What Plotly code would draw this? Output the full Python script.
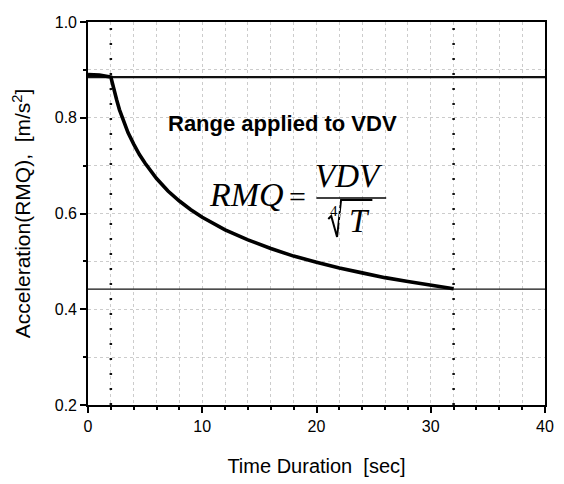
import plotly.graph_objects as go

# RMQ decay curve: acceleration (m/s^2) versus time duration (s)
time_s = [0, 1, 2, 2.25, 2.5, 2.75, 3, 3.5, 4, 4.5, 5, 6, 7, 8, 9, 10, 12, 14, 16, 18, 20,
          22, 24, 26, 28, 30, 32]
rmq = [0.890, 0.889, 0.885, 0.859, 0.838, 0.817, 0.800, 0.769, 0.745, 0.723, 0.705, 0.673,
       0.647, 0.626, 0.608, 0.592, 0.566, 0.545, 0.527, 0.511, 0.498, 0.486, 0.476, 0.466,
       0.458, 0.450, 0.443]

# reference levels (VDV level and half level) and the range limits applied to VDV
levels = [0.885, 0.442]
level_widths = [2.2, 1.2]
range_limits = [2, 32]

x_range = [0, 40]
y_range = [0.2, 1.0]
x_ticks = [0, 10, 20, 30, 40]
y_ticks = [0.2, 0.4, 0.6, 0.8, 1.0]

fig = go.Figure()

for lv, w in zip(levels, level_widths):
    fig.add_trace(go.Scatter(x=x_range, y=[lv, lv], mode="lines",
                             line=dict(color="#111111", width=w),
                             hoverinfo="skip", showlegend=False))

for t in range_limits:
    fig.add_trace(go.Scatter(x=[t, t], y=y_range, mode="lines",
                             line=dict(color="#111111", width=2.5, dash="2px,13px"),
                             hoverinfo="skip", showlegend=False))

fig.add_trace(go.Scatter(x=time_s, y=rmq, mode="lines",
                         line=dict(color="black", width=3.6),
                         showlegend=False))

sans = "Liberation Sans, Arial, sans-serif"
serif = "Liberation Serif, Times New Roman, DejaVu Serif, serif"

fig.add_annotation(x=17.0, y=0.789, text="<b>Range applied to VDV</b>", showarrow=False,
                   font=dict(family=sans, size=22, color="black"))
fig.add_annotation(x=13.9, y=0.639, text="<i>RMQ</i>", showarrow=False,
                   font=dict(family=serif, size=34, color="black"))
fig.add_annotation(x=18.35, y=0.636, text="=", showarrow=False,
                   font=dict(family=serif, size=30, color="black"))
fig.add_annotation(x=22.88, y=0.678, text="<i>VDV</i>", showarrow=False,
                   font=dict(family=serif, size=33, color="black"))
fig.add_annotation(x=23.78, y=0.584, text="<i>T</i>", showarrow=False,
                   font=dict(family=serif, size=33, color="black"))
fig.add_annotation(x=21.55, y=0.606, text="4", showarrow=False,
                   font=dict(family=serif, size=15, color="black"))

# fraction bar
fig.add_shape(type="line", x0=20.0, x1=26.1, y0=0.6324, y1=0.6324,
              line=dict(color="black", width=1.5))
# radical sign with its vinculum
fig.add_shape(type="path", layer="below",
              path="M 21.03,0.5885 L 21.29,0.5948 L 21.80,0.5509 L 22.15,0.6282 L 24.89,0.6282",
              line=dict(color="black", width=2))

grid = dict(showgrid=True, gridcolor="#cccccc", gridwidth=1, griddash="dot")

fig.update_xaxes(range=x_range, tickvals=x_ticks, ticks="outside", ticklen=6,
                 tickwidth=1.5, tickcolor="black", showline=True, linecolor="black",
                 linewidth=1.6, mirror=True, zeroline=False,
                 tickfont=dict(family=sans, size=16, color="black"),
                 title=dict(text="Time Duration  [sec]", standoff=25,
                            font=dict(family=sans, size=20, color="black")),
                 minor=dict(dtick=2, ticks="outside", ticklen=3, tickcolor="black", **grid),
                 **grid)
fig.update_yaxes(range=y_range, tickvals=y_ticks, tickformat=".1f", ticks="outside", ticklen=6,
                 tickwidth=1.5, tickcolor="black", showline=True, linecolor="black",
                 linewidth=1.6, mirror=True, zeroline=False,
                 tickfont=dict(family=sans, size=16, color="black"),
                 title=dict(text="Acceleration(RMQ),  [m/s<sup>2</sup>]", standoff=18,
                            font=dict(family=sans, size=21, color="black")),
                 minor=dict(dtick=0.1, ticks="outside", ticklen=3, tickcolor="black", **grid),
                 **grid)

fig.update_layout(width=564, height=484, margin=dict(l=88, r=10, t=22, b=79),
                  plot_bgcolor="white", paper_bgcolor="white")

fig.write_html("out.html")
